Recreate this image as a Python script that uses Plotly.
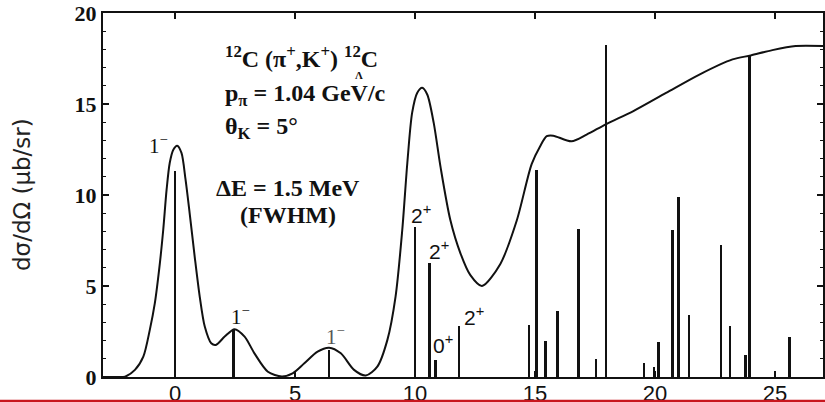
import plotly.graph_objects as go

# ---- data ----
level_energy = [0.0, 2.44, 6.42, 10.02, 10.60, 10.86, 11.83, 14.76, 15.07, 15.44,
                15.95, 16.80, 17.54, 17.95, 19.54, 19.98, 20.15, 20.74, 20.99, 21.44,
                22.76, 23.13, 23.78, 23.95, 24.99, 25.61]
level_xsec = [11.3, 2.59, 1.49, 8.22, 6.29, 0.94, 2.81, 2.86, 11.39, 1.98,
              3.63, 8.13, 0.97, 18.23, 0.75, 0.55, 1.94, 8.05, 9.87, 3.40,
              7.26, 2.81, 1.21, 17.63, 0.12, 2.18]

curve_energy = [-3.0, -2.5, -2.08, -1.67, -1.32, -1.05, -0.84, -0.63, -0.49, -0.35,
                -0.22, -0.07, 0.09, 0.27, 0.44, 0.61, 0.82, 1.03, 1.24, 1.51,
                1.70, 2.07, 2.48, 2.90, 3.31, 3.87, 4.45, 4.90, 5.39, 5.94,
                6.42, 6.91, 7.46, 7.95, 8.43, 8.85, 9.19, 9.47, 9.68, 9.88,
                10.09, 10.30, 10.51, 10.78, 11.06, 11.47, 11.89, 12.30, 12.79, 13.55,
                14.24, 14.86, 15.21, 15.49, 15.76, 16.52, 17.15, 17.97, 19.08, 20.46,
                21.85, 23.23, 23.99, 24.89, 25.86, 27.0]
curve_xsec = [0.0, 0.0, 0.02, 0.39, 1.12, 2.59, 4.06, 6.26, 8.09, 10.29,
              11.76, 12.49, 12.71, 12.31, 10.84, 9.01, 6.62, 4.42, 2.77, 1.85,
              1.76, 2.22, 2.63, 2.22, 1.30, 0.29, 0.03, 0.20, 0.75, 1.39,
              1.61, 1.30, 0.39, 0.08, 0.57, 2.04, 4.42, 8.09, 11.76, 14.51,
              15.61, 15.89, 15.52, 13.96, 11.57, 8.64, 6.81, 5.61, 5.00, 6.20,
              8.60, 11.70, 12.67, 13.23, 13.26, 12.95, 13.32, 13.90, 14.60, 15.61,
              16.62, 17.45, 17.67, 17.96, 18.18, 18.18]

x_ticks = [0, 5, 10, 15, 20, 25]
y_ticks = [0, 5, 10, 15, 20]

# ---- styles ----
bar_weight = ["thick", "thick", "medium", "medium", "thick", "thick", "medium", "medium",
              "medium", "thick", "medium", "thick", "thick", "thin", "medium", "thin",
              "medium", "medium", "thick", "medium", "medium", "medium", "thick", "thick",
              "thin", "medium"]
weight_to_width = {"thin": 0.045, "medium": 0.075, "thick": 0.11}
bar_widths = [weight_to_width[w] for w in bar_weight]

INK = "#111111"
SERIF = "Liberation Serif"

fig = go.Figure()
fig.add_trace(go.Bar(x=level_energy, y=level_xsec, width=bar_widths,
                     marker=dict(color=INK, line=dict(width=0)), showlegend=False))
fig.add_trace(go.Scatter(x=curve_energy, y=curve_xsec, mode="lines",
                         line=dict(color=INK, width=2, shape="spline", smoothing=0.8),
                         showlegend=False))

axis_common = dict(showline=True, linecolor=INK, linewidth=2, mirror="ticks",
                   ticks="inside", tickcolor=INK, tickwidth=1.5, ticklen=6,
                   showgrid=False, zeroline=False, automargin=False)
fig.update_xaxes(range=[-3, 27], tickvals=x_ticks, ticklabelstandoff=-4,
                 tickfont=dict(family="Liberation Sans", size=22, color=INK),
                 **axis_common)
fig.update_yaxes(range=[0, 20], tickvals=y_ticks,
                 tickfont=dict(family=SERIF, size=22, color=INK, weight="bold"),
                 minor=dict(ticks="inside", ticklen=3, tickcolor=INK, dtick=1, tickwidth=1),
                 **axis_common)

ann = []
def txt(x, y, s, size=24, anchor="left", family=SERIF, color=INK):
    ann.append(dict(x=x, y=y, xref="x", yref="y", text=s, showarrow=False,
                    xanchor=anchor, yanchor="middle",
                    font=dict(family=family, size=size, color=color)))

txt(2.0, 17.6, "<b><sup>12</sup>C (π<sup>+</sup>,K<sup>+</sup>) <sup>12</sup>C</b>")
txt(7.68, 16.62, "<b>Λ</b>", size=11, anchor="center")
txt(2.0, 15.5, "<b>p<sub>π</sub> = 1.04 GeV/c</b>")
txt(2.0, 13.7, "<b>θ<sub>K</sub> = 5°</b>")
txt(4.7, 10.4, "<b>ΔE = 1.5 MeV</b>", anchor="center")
txt(4.7, 8.9, "<b>(FWHM)</b>", anchor="center")

peak_labels = ["1<sup>−</sup>", "1<sup>−</sup>", "1<sup>−</sup>", "2<sup>+</sup>",
               "2<sup>+</sup>", "0<sup>+</sup>", "2<sup>+</sup>"]
label_pos = [(-0.68, 12.8), (2.72, 3.4), (6.7, 2.26), (10.23, 8.97),
             (11.02, 6.99), (11.18, 1.82), (12.47, 3.36)]
for i, (lab, (lx, ly)) in enumerate(zip(peak_labels, label_pos)):
    fam = SERIF if i < 3 else "Liberation Sans"
    col = "#555555" if i == 2 else INK
    txt(lx, ly, lab, size=21, anchor="center", family=fam, color=col)

ann.append(dict(x=-0.1125, y=0.5, xref="paper", yref="paper",
                text="dσ/dΩ (μb/sr)", showarrow=False, textangle=-90,
                xanchor="center", yanchor="middle",
                font=dict(family="DejaVu Sans", size=23, color="#222222")))

fig.update_layout(
    width=825, height=402,
    margin=dict(l=103, r=2, t=13, b=25, autoexpand=False),
    paper_bgcolor="white", plot_bgcolor="white",
    barmode="overlay", bargap=0,
    annotations=ann,
    shapes=[dict(type="rect", xref="paper", yref="paper", x0=-0.2, x1=1.05,
                 y0=-0.0625, y1=-0.09, fillcolor="#C8161E", line=dict(width=0),
                 layer="above")],
)

fig.write_html("out.html")
